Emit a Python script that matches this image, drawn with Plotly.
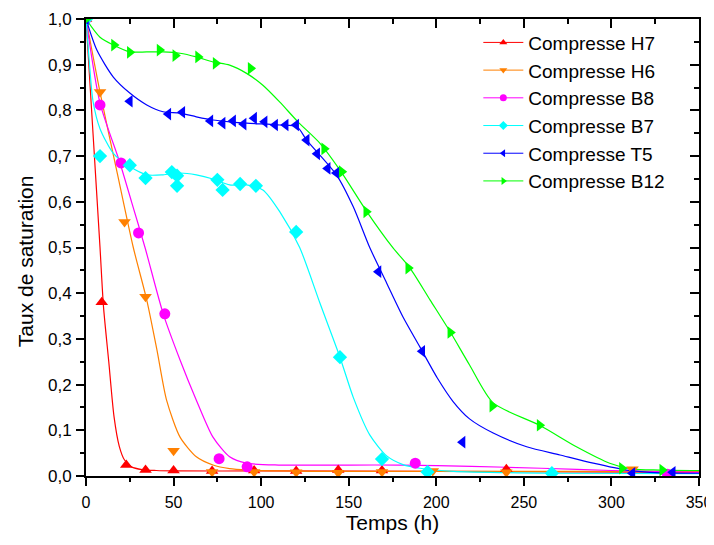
import plotly.graph_objects as go

# ---- data ----
names = ["Compresse H7", "Compresse H6", "Compresse B8", "Compresse B7", "Compresse T5", "Compresse B12"]
colors = ["#FF0000", "#FF8000", "#FF00FF", "#00FFFF", "#0000FF", "#00FF00"]
symbols = ["triangle-up", "triangle-down", "circle", "diamond", "triangle-left", "triangle-right"]

h7_x = [0, 9, 23, 34, 50, 72, 96, 120, 144, 169, 240]
h7_y = [1.0, 0.38, 0.024, 0.013, 0.012, 0.011, 0.012, 0.011, 0.013, 0.012, 0.015]
h6_x = [0, 8, 22, 34, 50, 72, 96, 120, 144, 169, 198, 240, 312]
h6_y = [1.0, 0.84, 0.556, 0.392, 0.055, 0.009, 0.009, 0.008, 0.007, 0.009, 0.011, 0.008, 0.015]
b8_x = [0, 8, 20, 30, 45, 76, 92, 188, 332]
b8_y = [1.0, 0.812, 0.685, 0.532, 0.355, 0.038, 0.02, 0.028, 0.004]
b7_x = [0, 8, 25, 34, 49, 52, 52, 75, 78, 88, 97, 120, 145, 169, 195, 266]
b7_y = [1.0, 0.70, 0.68, 0.652, 0.665, 0.657, 0.635, 0.648, 0.626, 0.639, 0.635, 0.534, 0.26, 0.037, 0.009, 0.006]
t5_x = [0, 25, 47, 55, 71, 78, 84, 90, 96, 102, 108, 114, 120, 126, 132, 138, 143, 167, 192, 215, 312, 335]
t5_y = [1.0, 0.82, 0.792, 0.796, 0.777, 0.772, 0.777, 0.770, 0.783, 0.775, 0.768, 0.768, 0.768, 0.735, 0.705,
        0.673, 0.663, 0.447, 0.273, 0.074, 0.006, 0.008]
b12_x = [0, 16, 25, 42, 51, 64, 74, 94, 136, 146, 160, 184, 208, 232, 259, 306, 329]
b12_y = [1.0, 0.943, 0.927, 0.932, 0.92, 0.917, 0.903, 0.892, 0.716, 0.666, 0.578, 0.455, 0.314, 0.153, 0.111,
         0.017, 0.013]

# fitted curves
h7_cx = [0, 4, 8, 10, 13, 16, 19, 22, 26, 32, 40, 50, 100, 200, 350]
h7_cy = [1.0, 0.75, 0.5, 0.37, 0.25, 0.13, 0.065, 0.035, 0.02, 0.014, 0.012, 0.011, 0.011, 0.01, 0.008]
h6_cx = [0, 8, 18, 27, 34.7, 40.5, 46, 53.7, 63, 72.5, 82, 92, 110, 150, 200, 350]
h6_cy = [1.0, 0.84, 0.66, 0.5, 0.385, 0.276, 0.166, 0.085, 0.042, 0.024, 0.016, 0.013, 0.011, 0.01, 0.01, 0.01]
b8_cx = [0, 8, 19.4, 26, 33.7, 44, 53.7, 63, 72.5, 82, 91.7, 110, 150, 180, 220, 260, 300, 350]
b8_cy = [1.0, 0.816, 0.685, 0.6, 0.5, 0.356, 0.254, 0.166, 0.085, 0.042, 0.028, 0.024, 0.024, 0.024, 0.021,
         0.017, 0.012, 0.008]
b7_cx = [0, 2, 4, 8, 15.6, 25, 34.7, 44, 53.7, 63, 72.5, 82, 91.7, 101, 110.7, 122, 133.6, 145, 152.6, 162,
         171.7, 181, 190.7, 210, 266, 350]
b7_cy = [1.0, 0.9, 0.82, 0.76, 0.706, 0.677, 0.659, 0.659, 0.663, 0.659, 0.65, 0.637, 0.637, 0.626, 0.578, 0.5,
         0.378, 0.26, 0.172, 0.09, 0.044, 0.025, 0.017, 0.01, 0.006, 0.005]
t5_cx = [0, 6.2, 15.6, 25, 34.7, 44, 53.7, 63, 72.5, 82, 91.7, 110.7, 120.5, 126, 143, 152.6, 162, 171.7, 181,
         190.7, 200.5, 209.6, 219, 232.5, 251.6, 270.6, 289.6, 308.6, 327.6, 350]
t5_cy = [1.0, 0.932, 0.873, 0.838, 0.812, 0.797, 0.794, 0.786, 0.779, 0.775, 0.772, 0.768, 0.764, 0.735, 0.659,
         0.589, 0.5, 0.422, 0.348, 0.282, 0.215, 0.163, 0.125, 0.094, 0.064, 0.046, 0.028, 0.013, 0.007, 0.006]
b12_cx = [0, 8, 15.6, 25, 34.7, 44, 53.7, 63, 72.5, 82, 91.7, 101, 110.7, 121, 133.6, 145.6, 160.4, 175.3, 185,
          196.5, 208, 219, 232.5, 259, 280, 299, 312, 327.6, 350]
b12_cy = [1.0, 0.96, 0.943, 0.928, 0.928, 0.928, 0.925, 0.917, 0.906, 0.899, 0.881, 0.855, 0.818, 0.775, 0.728,
          0.666, 0.578, 0.499, 0.455, 0.385, 0.315, 0.243, 0.16, 0.111, 0.064, 0.028, 0.015, 0.013, 0.012]

x_ticks = [0, 50, 100, 150, 200, 250, 300, 350]
x_ticktext = ["0", "50", "100", "150", "200", "250", "300", "350"]
y_ticks = [0.0, 0.1, 0.2, 0.3, 0.4, 0.5, 0.6, 0.7, 0.8, 0.9, 1.0]
y_ticktext = ["0,0", "0,1", "0,2", "0,3", "0,4", "0,5", "0,6", "0,7", "0,8", "0,9", "1,0"]

points = [(h7_x, h7_y), (h6_x, h6_y), (b8_x, b8_y), (b7_x, b7_y), (t5_x, t5_y), (b12_x, b12_y)]
curves = [(h7_cx, h7_cy), (h6_cx, h6_cy), (b8_cx, b8_cy), (b7_cx, b7_cy), (t5_cx, t5_cy), (b12_cx, b12_cy)]

FONT = "Liberation Sans, Arial, sans-serif"

fig = go.Figure()
for i, (cx, cy) in enumerate(curves):
    fig.add_trace(go.Scatter(x=cx, y=cy, mode="lines", line=dict(color=colors[i], width=1.2, shape="spline",
                                                                  smoothing=0.7),
                             showlegend=False, hoverinfo="skip"))
for i, (px, py) in enumerate(points):
    fig.add_trace(go.Scatter(x=px, y=py, mode="markers", name=names[i],
                             marker=dict(symbol=symbols[i], color=colors[i], size=11, line=dict(width=0)),
                             showlegend=False))
# legend entries (no data)
for i in range(len(names)):
    fig.add_trace(go.Scatter(x=[None], y=[None], mode="lines+markers", name=names[i], xaxis="x2", yaxis="y2",
                             line=dict(color=colors[i], width=1),
                             marker=dict(symbol=symbols[i], color=colors[i], size=7)))

axis_common = dict(showgrid=False, zeroline=False, showline=True, linecolor="black", linewidth=2,
                   automargin=False)
fig.update_layout(
    width=706, height=529,
    margin=dict(l=78, r=15, t=11, b=61, autoexpand=False),
    paper_bgcolor="white", plot_bgcolor="white",
    font=dict(family=FONT, color="black", size=16),
    xaxis=dict(range=[0, 350], tickvals=x_ticks, ticktext=x_ticktext, ticks="outside", ticklen=8, tickwidth=2,
               tickcolor="black", minor=dict(dtick=25, ticks="outside", ticklen=4, tickwidth=2, tickcolor="black"),
               tickfont=dict(size=16), ticklabelstandoff=3,
               title=dict(text="Temps (h)", font=dict(size=21), standoff=4),
               **axis_common),
    yaxis=dict(range=[0, 1.0], tickvals=y_ticks, ticktext=y_ticktext, ticks="outside", ticklen=8, tickwidth=2,
               tickcolor="black", minor=dict(dtick=0.05, ticks="outside", ticklen=4, tickwidth=2, tickcolor="black"),
               tickfont=dict(size=17), ticklabelstandoff=1,
               **axis_common),
    xaxis2=dict(range=[0, 350], overlaying="x", side="top", tickvals=x_ticks, showticklabels=False,
                ticks="inside", ticklen=9, tickwidth=2, tickcolor="black",
                minor=dict(dtick=25, ticks="inside", ticklen=5, tickwidth=2, tickcolor="black"), **axis_common),
    yaxis2=dict(range=[0, 1.0], overlaying="y", side="right", tickvals=y_ticks, showticklabels=False,
                ticks="inside", ticklen=9, tickwidth=2, tickcolor="black",
                minor=dict(dtick=0.05, ticks="inside", ticklen=5, tickwidth=2, tickcolor="black"), **axis_common),
    legend=dict(x=0.64, y=0.99, xanchor="left", yanchor="top", bgcolor="rgba(0,0,0,0)",
                font=dict(size=19), tracegroupgap=0, itemwidth=40),
    showlegend=True,
    annotations=[dict(text="Taux de saturation", textangle=-90, xref="paper", yref="paper", x=0, y=0.47,
                      xanchor="center", yanchor="middle", xshift=-61, showarrow=False,
                      font=dict(size=21, family=FONT, color="black"))],
)

fig.write_html("out.html")
